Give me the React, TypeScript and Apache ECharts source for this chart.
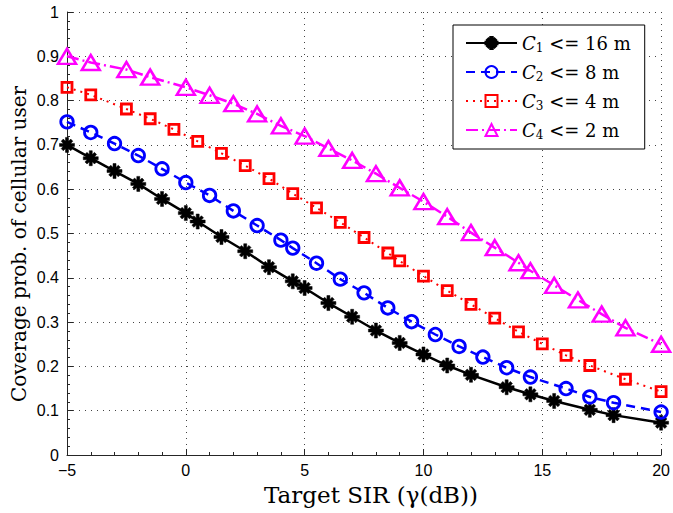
import React, { useEffect, useRef } from 'react';
import * as echarts from 'echarts';

// Series 1: C1 <= 16 m
const c1X = [-5, -4, -3, -2, -1, 0, 0.5, 1.5, 2.5, 3.5, 4.5, 5, 6, 7, 8, 9, 10, 11, 12, 13.5, 14.5, 15.5, 17, 18, 20];
const c1Y = [0.700, 0.670, 0.641, 0.612, 0.578, 0.546, 0.527, 0.492, 0.460, 0.424, 0.392, 0.377, 0.343, 0.312, 0.281, 0.253, 0.227, 0.202, 0.181, 0.153, 0.137, 0.122, 0.102, 0.090, 0.073];
// Series 2: C2 <= 8 m
const c2X = [-5, -4, -3, -2, -1, 0, 1, 2, 3, 4, 4.5, 5.5, 6.5, 7.5, 8.5, 9.5, 10.5, 11.5, 12.5, 13.5, 14.5, 16, 17, 18, 20];
const c2Y = [0.752, 0.728, 0.703, 0.676, 0.646, 0.615, 0.586, 0.551, 0.518, 0.485, 0.467, 0.433, 0.397, 0.366, 0.332, 0.301, 0.272, 0.245, 0.221, 0.197, 0.176, 0.150, 0.131, 0.118, 0.097];
// Series 3: C3 <= 4 m
const c3X = [-5, -4, -2.5, -1.5, -0.5, 0.5, 1.5, 2.5, 3.5, 4.5, 5.5, 6.5, 7.5, 8.5, 9, 10, 11, 12, 13, 14, 15, 16, 17, 18.5, 20];
const c3Y = [0.830, 0.813, 0.781, 0.759, 0.735, 0.708, 0.681, 0.653, 0.624, 0.590, 0.558, 0.525, 0.491, 0.456, 0.438, 0.404, 0.371, 0.340, 0.309, 0.278, 0.251, 0.225, 0.202, 0.171, 0.143];
// Series 4: C4 <= 2 m
const c4X = [-5, -4, -2.5, -1.5, 0, 1, 2, 3, 4, 5, 6, 7, 8, 9, 10, 11, 12, 13, 14, 14.5, 15.5, 16.5, 17.5, 18.5, 20];
const c4Y = [0.900, 0.886, 0.870, 0.853, 0.830, 0.812, 0.793, 0.770, 0.743, 0.720, 0.692, 0.665, 0.635, 0.603, 0.572, 0.538, 0.502, 0.468, 0.434, 0.416, 0.383, 0.350, 0.318, 0.287, 0.250];

const seriesNames = ['C1 <= 16 m', 'C2 <= 8 m', 'C3 <= 4 m', 'C4 <= 2 m'];
const legendSubs = ['1', '2', '3', '4'];
const legendTails = [' <= 16 m', ' <= 8 m', ' <= 4 m', ' <= 2 m'];
const xTickValues = [-5, 0, 5, 10, 15, 20];
const yTickValues = [0, 0.1, 0.2, 0.3, 0.4, 0.5, 0.6, 0.7, 0.8, 0.9, 1];
const xTitle = 'Target SIR (\u03b3(dB))';
const yTitle = 'Coverage prob. of cellular user';

const ASTERISK =
  'path://M0 8 H20 V12 H0 Z M8 0 H12 V20 H8 Z M2.23 5.05 L5.05 2.23 L17.77 14.95 L14.95 17.77 Z M5.05 17.77 L2.23 14.95 L14.95 2.23 L17.77 5.05 Z';

function pairs(xs: number[], ys: number[]) {
  return xs.map((x, i) => [x, ys[i]]);
}

export default function App() {
  const ref = useRef<HTMLDivElement>(null);
  useEffect(() => {
    const chart = echarts.init(ref.current!, null, { renderer: 'svg' });
    const serif = 'DejaVu Serif';
    const sans = 'Liberation Sans';
    const axisColor = '#262626';
    const gridLine = { show: true, lineStyle: { type: [1, 5], color: '#444', width: 1 } };
    const option: any = {
      animation: false,
      backgroundColor: '#fff',
      grid: { left: 67, right: 10, top: 12, bottom: 58, containLabel: false },
      graphic: [
        {
          type: 'text',
          x: 371,
          y: 495,
          silent: true,
          style: {
            text: xTitle,
            fontFamily: serif,
            fontSize: 23,
            fill: '#000',
            align: 'center',
            verticalAlign: 'middle',
          },
        },
        {
          type: 'text',
          x: 19,
          y: 244,
          rotation: Math.PI / 2,
          silent: true,
          style: {
            text: yTitle,
            fontFamily: serif,
            fontSize: 20,
            fill: '#000',
            align: 'center',
            verticalAlign: 'middle',
          },
        },
      ],
      legend: {
        orient: 'vertical',
        left: 453,
        top: 25,
        width: 195,
        padding: [9, 14, 8, 12],
        itemWidth: 51,
        itemHeight: 15,
        itemGap: 9,
        backgroundColor: '#fff',
        borderColor: '#000',
        borderWidth: 1,
        data: seriesNames,
        formatter: (name: string) => {
          const i = seriesNames.indexOf(name);
          return `{i|C}{s|${legendSubs[i]}}{t|${legendTails[i]}}`;
        },
        textStyle: {
          color: '#000',
          rich: {
            i: { fontFamily: serif, fontStyle: 'italic', fontSize: 18, lineHeight: 22, verticalAlign: 'middle' },
            s: { fontFamily: serif, fontSize: 12, lineHeight: 11, verticalAlign: 'bottom' },
            t: { fontFamily: serif, fontSize: 18, lineHeight: 22, verticalAlign: 'middle' },
          },
        },
      },
      xAxis: {
        type: 'value',
        min: -5,
        max: 20,
        interval: 5,
        axisLine: { show: true, onZero: false, lineStyle: { color: axisColor, width: 1 } },
        axisTick: { show: true, inside: true, length: 6, lineStyle: { color: axisColor } },
        minorTick: { show: true, splitNumber: 5, length: 3, lineStyle: { color: axisColor } },
        splitLine: gridLine,
        axisLabel: {
          fontFamily: sans,
          fontSize: 16,
          color: '#000',
          margin: 7,
          formatter: (v: number) => (xTickValues.includes(v) ? String(v).replace('-', '\u2212') : ''),
        },
      },
      yAxis: {
        type: 'value',
        min: 0,
        max: 1,
        interval: 0.1,
        axisLine: { show: true, onZero: false, lineStyle: { color: axisColor, width: 1 } },
        axisTick: { show: true, inside: true, length: 6, lineStyle: { color: axisColor } },
        minorTick: { show: true, splitNumber: 5, length: 3, lineStyle: { color: axisColor } },
        splitLine: gridLine,
        axisLabel: {
          fontFamily: sans,
          fontSize: 16,
          color: '#000',
          margin: 8,
          formatter: (v: number) => {
            const t = yTickValues.find((k) => Math.abs(k - v) < 1e-9);
            if (t === undefined) return '';
            return t === 0 || t === 1 ? String(t) : t.toFixed(1);
          },
        },
      },
      series: [
        {
          name: seriesNames[0],
          type: 'line',
          data: pairs(c1X, c1Y),
          symbol: ASTERISK,
          symbolSize: 15,
          lineStyle: { color: '#000', width: 2.5, type: 'solid' },
          itemStyle: { color: '#000', borderColor: '#000', borderWidth: 0.5 },
          z: 3,
        },
        {
          name: seriesNames[1],
          type: 'line',
          data: pairs(c2X, c2Y),
          symbol: 'circle',
          symbolSize: 12.5,
          lineStyle: { color: '#0000ff', width: 2.5, type: [9, 6] },
          itemStyle: { color: 'rgba(0,0,0,0)', borderColor: '#0000ff', borderWidth: 2.8 },
          z: 4,
        },
        {
          name: seriesNames[2],
          type: 'line',
          data: pairs(c3X, c3Y),
          symbol: 'rect',
          symbolSize: 10,
          lineStyle: { color: '#ff0000', width: 2, type: [2, 5] },
          itemStyle: { color: 'rgba(0,0,0,0)', borderColor: '#ff0000', borderWidth: 2.8 },
          z: 5,
        },
        {
          name: seriesNames[3],
          type: 'line',
          data: pairs(c4X, c4Y),
          symbol: 'triangle',
          symbolSize: [18, 15],
          lineStyle: { color: '#ff00ff', width: 2.5, type: [12, 4, 2, 4] },
          itemStyle: { color: 'rgba(0,0,0,0)', borderColor: '#ff00ff', borderWidth: 2.5 },
          z: 6,
        },
      ],
    };
    chart.setOption(option);
    return () => chart.dispose();
  }, []);
  return (
    <div
      ref={ref}
      style={{ position: 'fixed', left: 0, top: 0, width: 673, height: 513, background: '#fff' }}
    />
  );
}
